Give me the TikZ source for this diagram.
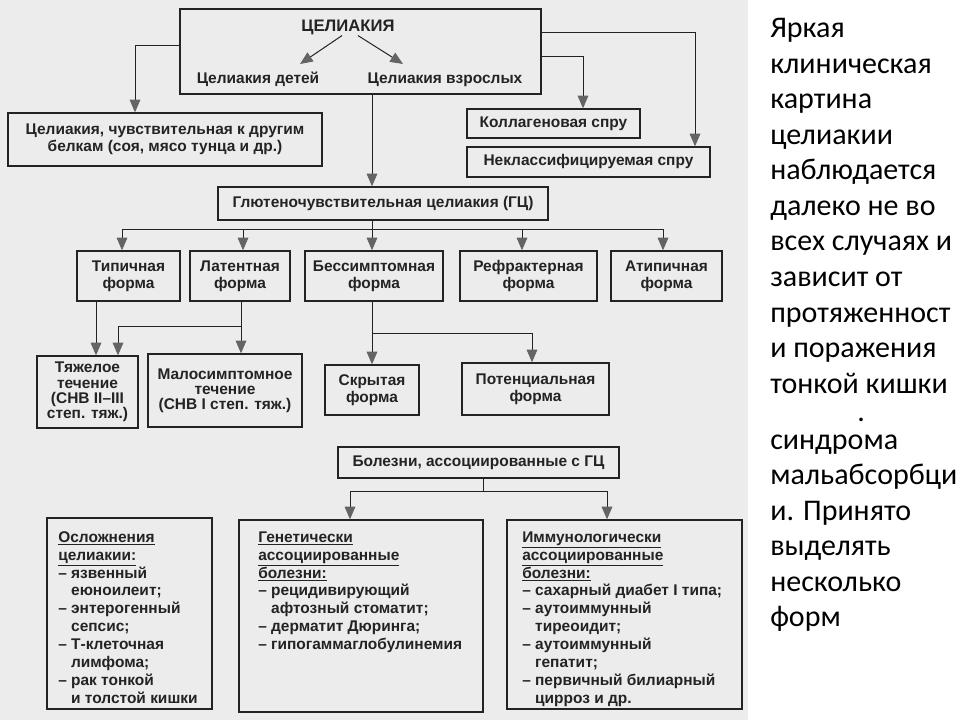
\documentclass[tikz,border=0pt]{standalone}
\usepackage{fontspec}
\setmainfont{Liberation Sans}
\newfontfamily\slidefont{Carlito}
\usetikzlibrary{arrows.meta,calc}
\definecolor{scan}{RGB}{236,236,236}
\definecolor{ink}{RGB}{35,35,35}
\definecolor{tipgray}{RGB}{100,100,100}
\newcommand\fixskip{\lineskiplimit=-100pt\relax}
\tikzset{box/.style 2 args={draw=ink,line width=1pt,minimum width=#1*0.75pt,minimum height=#2*0.75pt,inner sep=0pt,align=center,font=\fontsize{11.6}{12.75}\selectfont\bfseries\fixskip,text=ink}}
\tikzset{tight/.style={font=\fontsize{11.6}{11.4}\selectfont\bfseries\fixskip}}
\tikzset{txt/.style={font=\fontsize{11.6}{12.75}\selectfont\bfseries,text=ink,inner sep=0pt}}
\tikzset{lst/.style={txt,anchor=north west,align=left,font=\fontsize{11.6}{13.4}\selectfont\bfseries\fixskip}}
\tikzset{arr/.style={draw=ink,line width=0.75pt,-{Triangle[length=9.5pt,width=8pt,fill=tipgray,color=tipgray]}}}
\tikzset{rt/.style={font=\slidefont\fontsize{22.5}{27}\selectfont,anchor=base west,inner sep=0pt}}
\newcommand\hd[1]{\smash{\underline{#1}}}

\begin{document}
\begin{tikzpicture}[x=0.75pt,y=-0.75pt]
        \useasboundingbox (0,0) rectangle (960,720);
        \fill[scan] (0,0) rectangle (748,720);
        % top level
        \node[box={361}{85}] (celiac) at (360.5,51.5) {};
        \node[txt,anchor=base,font=\fontsize{12.5}{13}\selectfont\bfseries] (celtitle) at (348,32) {ЦЕЛИАКИЯ};
        \node[txt,anchor=base] (kids) at (258,84) {Целиакия детей};
        \node[txt,anchor=base] (adults) at (445,84) {Целиакия взрослых};
        \coordinate (kidtip) at (300,64);
        \coordinate (adulttip) at (403,64);
        \draw[arr] (celtitle.south -| 342,0) -- (kidtip);
        \draw[arr] (celtitle.south -| 358,0) -- (adulttip);
        \node[box={314}{53}] (other) at (165,139.5) {Целиакия, чувствительная к другим\\белкам (соя, мясо тунца и др.)};
        \node[box={173}{29}] (collagen) at (553.5,123.5) {Коллагеновая спру};
        \node[box={243}{30}] (unclass) at (588.5,162) {Неклассифицируемая спру};
        \node[box={330}{33}] (gluten) at (383,203.5) {Глютеночувствительная целиакия (ГЦ)};
        \coordinate (k1) at (135,46);
        \draw[arr] (celiac.west |- k1) -| (other.north -| k1);
        \coordinate (k2) at (695,33);
        \draw[arr] (celiac.east |- k2) -| (unclass.north -| k2);
        \coordinate (k3) at (583,57);
        \draw[arr] (celiac.east |- k3) -| (collagen.north -| k3);
        \coordinate (k4) at (372,0);
        \draw[arr] (celiac.south -| k4) -- (gluten.north -| k4);
        % forms
        \node[box={103}{50}] (typical) at (128.5,276) {Типичная\\форма};
        \node[box={100}{50}] (latent) at (240,276) {Латентная\\форма};
        \node[box={138}{50}] (asympt) at (374,276) {Бессимптомная\\форма};
        \node[box={137}{50}] (refract) at (528.5,276) {Рефрактерная\\форма};
        \node[box={111}{50}] (atyp) at (666.5,276) {Атипичная\\форма};
        \coordinate (bus) at (372,230);
        \draw[arr] (gluten.south -| bus) -- (asympt.north -| bus);
        \draw[arr] (bus) -| (typical.north -| 122,0);
        \draw[arr] (bus) -| (latent.north -| 243,0);
        \draw[arr] (bus) -| (refract.north -| 522,0);
        \draw[arr] (bus) -| (atyp.north -| 663,0);
        % course
        \node[box={101}{72},tight] (severe) at (87.5,392) {Тяжелое\\течение\\(СНВ II–III\\степ. тяж.)};
        \node[box={154}{73},tight] (mild) at (225,390.5) {Малосимптомное\\течение\\(СНВ I степ. тяж.)};
        \node[box={94}{50}] (hidden) at (372,390) {Скрытая\\форма};
        \node[box={147}{52}] (potential) at (535.5,389) {Потенциальная\\форма};
        \draw[arr] (typical.south -| 96,0) -- (severe.north -| 96,0);
        \coordinate (lat) at (241,326);
        \draw[arr] (latent.south -| lat) -- (mild.north -| lat);
        \draw[arr] (lat) -| (severe.north -| 118,0);
        \coordinate (asy) at (372,333);
        \draw[arr] (asympt.south -| asy) -- (hidden.north -| asy);
        \draw[arr] (asy) -| (potential.north -| 532,0);
        % associated diseases
        \node[box={281}{31}] (assoc) at (478.5,462.5) {Болезни, ассоциированные с ГЦ};
        \node[box={165}{191}] (compl) at (129.5,613.5) {};
        \node[box={244}{192}] (genet) at (361,616) {};
        \node[box={235}{189}] (immun) at (624.5,614.5) {};
        \coordinate (dis) at (483,491);
        \draw[draw=ink,line width=0.75pt] (assoc.south -| dis) -- (dis);
        \draw[arr] (dis) -| (genet.north -| 350,0);
        \draw[arr] (dis) -| (immun.north -| 607,0);
        \node[lst] (compltxt) at (58,542) {\hd{Осложнения}\\\hd{целиакии:}\\– язвенный\\\phantom{– }еюноилеит;\\– энтерогенный\\\phantom{– }сепсис;\\– Т-клеточная\\\phantom{– }лимфома;\\– рак тонкой\\\phantom{– }и толстой кишки};
        \node[lst] (genettxt) at (258,542) {\hd{Генетически}\\\hd{ассоциированные}\\\hd{болезни:}\\– рецидивирующий\\\phantom{– }афтозный стоматит;\\– дерматит Дюринга;\\– гипогаммаглобулинемия};
        \node[lst] (immuntxt) at (522,542) {\hd{Иммунологически}\\\hd{ассоциированные}\\\hd{болезни:}\\– сахарный диабет I типа;\\– аутоиммунный\\\phantom{– }тиреоидит;\\– аутоиммунный\\\phantom{– }гепатит;\\– первичный билиарный\\\phantom{– }цирроз и др.};
        % slide text
        \foreach \t [count=\i] in {Яркая,клиническая,картина,целиакии,наблюдается,далеко не во,всех случаях и,зависит от,протяженност,и поражения,тонкой кишки}
          \node[rt] (r\i) at (770,{38+35.5*(\i-1)}) {\t};
        \node[rt] (dot) at (857,421) {.};
        \foreach \t [count=\i] in {синдрома,мальабсорбци,и. Принято,выделять,несколько,форм}
          \node[rt] (s\i) at (770,{449+35.5*(\i-1)}) {\t};
      \end{tikzpicture}
\end{document}
